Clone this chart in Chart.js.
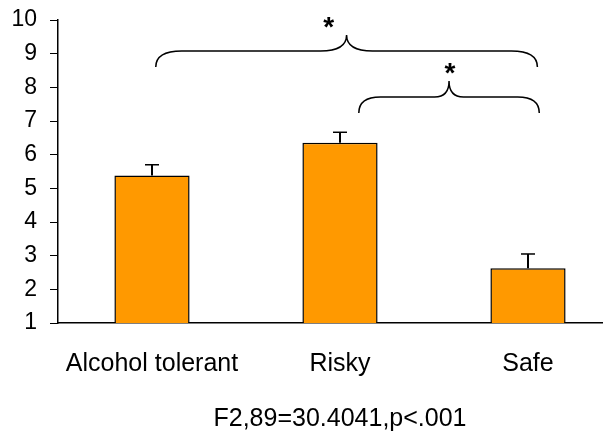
<!DOCTYPE html>
<html>
<head>
<meta charset="utf-8">
<script src="https://cdn.jsdelivr.net/npm/chart.js@4.4.1/dist/chart.umd.min.js"></script>
<style>
  html, body { margin: 0; padding: 0; background: #fff; overflow: hidden; }
  #wrap { position: relative; width: 640px; height: 432px; }
</style>
</head>
<body>
<div id="wrap"><canvas id="c"></canvas></div>
<script>
// Group means and their standard errors
const categories = ['Alcohol tolerant', 'Risky', 'Safe'];
const means = [5.38, 6.355, 2.625];
const errors = [0.32, 0.31, 0.425];
const yTicks = [1, 2, 3, 4, 5, 6, 7, 8, 9, 10];
const statLabel = 'F2,89=30.4041,p<.001';

// Significance braces: span in category units, level on the value axis
const braces = [
  { from: 0.02, to: 2.05, level: 9.08, mark: '*', markDx: -18 },
  { from: 1.10, to: 2.06, level: 7.71, mark: '*', markDx: 1 }
];

const FONT = 'Liberation Sans, Arial, sans-serif';

const errorBars = {
  id: 'errorBars',
  afterDatasetsDraw(chart) {
    const ctx = chart.ctx;
    const y = chart.scales.y;
    const meta = chart.getDatasetMeta(0);
    ctx.save();
    ctx.strokeStyle = '#000';
    meta.data.forEach((bar, i) => {
      const top = y.getPixelForValue(means[i] + errors[i]);
      ctx.lineWidth = 2;
      ctx.beginPath();
      ctx.moveTo(bar.x, bar.y);
      ctx.lineTo(bar.x, top);
      ctx.stroke();
      ctx.lineWidth = 1.5;
      ctx.beginPath();
      ctx.moveTo(bar.x - 7, top);
      ctx.lineTo(bar.x + 7, top);
      ctx.stroke();
    });
    ctx.restore();
  }
};

const braceMarks = {
  id: 'braceMarks',
  afterDraw(chart) {
    const ctx = chart.ctx;
    const x = chart.scales.x;
    const y = chart.scales.y;
    ctx.save();
    ctx.strokeStyle = '#000';
    ctx.lineWidth = 1.5;
    braces.forEach(b => {
      const x0 = x.getPixelForValue(b.from);
      const x1 = x.getPixelForValue(b.to);
      const yh = y.getPixelForValue(b.level);
      const drop = 16, rise = 16;
      const w = x1 - x0;
      const rEnd = Math.min(26, w * 0.12);
      const rMid = Math.min(26, w * 0.08);
      const xm = (x0 + x1) / 2;
      ctx.beginPath();
      ctx.moveTo(x0, yh + drop);
      ctx.quadraticCurveTo(x0, yh, x0 + rEnd, yh);
      ctx.lineTo(xm - rMid, yh);
      ctx.quadraticCurveTo(xm, yh, xm, yh - rise);
      ctx.quadraticCurveTo(xm, yh, xm + rMid, yh);
      ctx.lineTo(x1 - rEnd, yh);
      ctx.quadraticCurveTo(x1, yh, x1, yh + drop);
      ctx.stroke();
      ctx.fillStyle = '#000';
      ctx.font = 'bold 28px ' + FONT;
      ctx.textAlign = 'center';
      ctx.textBaseline = 'alphabetic';
      ctx.fillText(b.mark, xm + b.markDx, yh - rise + 1);
    });
    ctx.restore();
  }
};

new Chart(document.getElementById('c'), {
  type: 'bar',
  data: {
    labels: categories,
    datasets: [{
      data: means,
      backgroundColor: '#FF9900',
      borderColor: '#000',
      borderWidth: 1.5,
      categoryPercentage: 1,
      barPercentage: 0.4
    }]
  },
  options: {
    responsive: true,
    maintainAspectRatio: false,
    animation: false,
    layout: { padding: { top: 20, right: 18, left: 0, bottom: 0 } },
    plugins: { legend: { display: false }, tooltip: { enabled: false } },
    scales: {
      x: {
        afterFit(s) { s.height = 109; s.paddingLeft = 0; s.paddingRight = 0; },
        grid: { display: false },
        border: { display: true, color: '#000', width: 1.5 },
        ticks: { color: '#000', font: { family: FONT, size: 25 }, padding: 18, maxRotation: 0 },
        title: {
          display: true, text: statLabel, color: '#000',
          font: { family: FONT, size: 25 }, padding: { top: 0, bottom: -2 }
        }
      },
      y: {
        min: 1, max: 10,
        afterFit(s) { s.width = 58; s.paddingTop = 0; s.paddingBottom = 0; },
        afterBuildTicks(s) { s.ticks = yTicks.map(v => ({ value: v })); },
        grid: { drawOnChartArea: false, drawTicks: true, tickLength: 8, color: '#000', lineWidth: 1 },
        border: { display: true, color: '#000', width: 1.5 },
        ticks: { color: '#000', font: { family: FONT, size: 23 }, padding: 13 }
      }
    }
  },
  plugins: [errorBars, braceMarks]
});
</script>
</body>
</html>
